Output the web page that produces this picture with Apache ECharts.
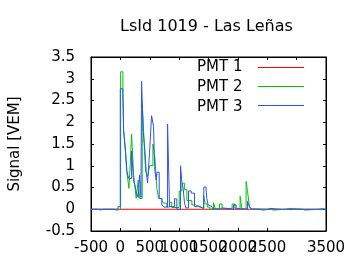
<!DOCTYPE html>
<html>
<head>
<meta charset="utf-8">
<script src="https://cdn.jsdelivr.net/npm/echarts@6/dist/echarts.min.js"></script>
<style>html,body{margin:0;padding:0;background:#fff;}#c{width:360px;height:270px;}</style>
</head>
<body>
<div id="c"></div>
<script>
var titleText = "LsId 1019 - Las Leñas";
var yAxisName = "Signal [VEM]";
var seriesNames = ["PMT 1", "PMT 2", "PMT 3"];

var pmt1Times = [-500, 3500];
var pmt1Values = [0, 0];

var pmt2Times = [-500,-381,-342,-286,-257,-116,-58,4,43,55,89,106,128,145,168,191,225,248,270,304,327,372,395,429,463,497,554,588,622,650,706,735,791,837,876,1001,1047,1090,1132,1217,1273,1358,1415,1445,1480,1520,1585,1619,1687,1732,1902,1948,2038,2067,2140,2163,2197,2230,2380,2420,2560,2600,2820,2860,3100,3140,3400,3440,3500];
var pmt2Values = [0,-0.02,0,0.03,0,-0.02,0,3.16,2.65,1.82,1.25,0.9,0.67,0.48,1.04,1.73,0.79,0.5,0.25,0.67,0.25,2.42,1.79,0.87,0.75,1.0,1.5,1.17,0.48,0.25,0.2,0.14,0.05,0.16,0.04,0.42,0.6,0.45,0.2,0.1,0.06,0.02,0.32,0.12,0.05,0,0.15,0,0.12,0.02,0.12,0.02,0.3,0.01,0.64,0.43,0.05,0,-0.02,0,-0.02,0,0.02,0,-0.02,0,0.02,0,0];

var pmt3Times = [-500,-40,-2,43,55,89,112,140,191,225,248,270,304,327,350,361,389,418,440,463,497,531,565,576,588,610,622,661,706,740,803,837,922,961,1024,1047,1069,1092,1115,1160,1205,1262,1330,1420,1460,1471,1494,1528,1562,1700,1735,1925,1970,2000,2163,2197,2230,2260,2500,2540,2740,2770,3000,3030,3300,3330,3500];
var pmt3Values = [0,0.06,2.77,2.66,1.82,1.33,0.87,0.71,1.34,0.64,0.56,0.4,0.27,0.79,0.27,2.94,1.79,1.33,0.87,0.6,1.31,2.15,1.9,1.31,0.87,0.67,0.85,0.25,0.1,0.05,1.96,0.06,0.24,0,1.0,0.62,0.48,0.14,0.03,0.42,0.37,0.06,0.02,0.51,0.44,0.25,0.1,0.06,0.01,0.03,0,0.1,0.02,0,0.18,0.06,0.01,0,0.02,0,0.02,0,0.02,0,0.02,0,0];

var colors = ["#ff0000", "#00c800", "#3050ff"];

function zip(t, v) { return t.map(function (x, i) { return [x, v[i]]; }); }

var FONT = "DejaVu Sans";
var chart = echarts.init(document.getElementById('c'), null, {renderer: 'canvas'});
var axLine = {show: true, onZero: false, lineStyle: {color: '#000', width: 1}};
var tick = {show: true, inside: true, length: 3, lineStyle: {color: '#000'}};
function plain(v) { return String(v); }
function mkSeries(name, t, v, c) {
  return {name: name, type: 'line', step: 'end', data: zip(t, v), showSymbol: false, symbol: 'none',
    lineStyle: {color: c, width: 1}, itemStyle: {color: c}, xAxisIndex: 0, yAxisIndex: 0, animation: false};
}
// legend key lines (decoration next to the legend texts)
var legendKeys = colors.map(function (c, i) {
  var y = 67.5 + i * 19;
  return {type: 'line', shape: {x1: 258, y1: y, x2: 304, y2: y}, style: {stroke: c, lineWidth: 1}, z: 100};
});
chart.setOption({
  animation: false,
  title: {text: titleText, left: 120, top: 19, padding: 0,
    textStyle: {fontFamily: FONT, fontSize: 16, fontWeight: 'normal', color: '#000'}},
  legend: {orient: 'vertical', left: 197, top: 60, align: 'right', itemWidth: 0, itemHeight: 14, itemGap: 5,
    padding: 0, icon: 'none', data: seriesNames, selectedMode: false,
    textStyle: {fontFamily: FONT, fontSize: 15, color: '#000', lineHeight: 14}},
  graphic: legendKeys,
  grid: {left: 91, right: 34, top: 57, bottom: 39, show: true, borderColor: '#000', borderWidth: 1, backgroundColor: 'transparent'},
  xAxis: [
    {type: 'value', position: 'bottom', min: -500, max: 3500, interval: 500, axisLine: axLine, axisTick: tick,
      splitLine: {show: false},
      axisLabel: {margin: 10, fontFamily: FONT, fontSize: 15, color: '#000', formatter: plain, showMinLabel: true, showMaxLabel: true, hideOverlap: false}},
    {type: 'value', position: 'top', min: -500, max: 3500, interval: 500, axisLine: axLine, axisTick: tick,
      splitLine: {show: false}, axisLabel: {show: false}}
  ],
  yAxis: [
    {type: 'value', position: 'left', min: -0.5, max: 3.5, interval: 0.5, axisLine: axLine, axisTick: tick,
      splitLine: {show: false},
      axisLabel: {margin: 16, fontFamily: FONT, fontSize: 15, color: '#000', formatter: plain, showMinLabel: true, showMaxLabel: true},
      name: yAxisName, nameLocation: 'middle', nameGap: 68, nameRotate: 90,
      nameTextStyle: {fontFamily: FONT, fontSize: 15, color: '#000'}},
    {type: 'value', position: 'right', min: -0.5, max: 3.5, interval: 0.5, axisLine: axLine, axisTick: tick,
      splitLine: {show: false}, axisLabel: {show: false}}
  ],
  series: [
    mkSeries(seriesNames[0], pmt1Times, pmt1Values, colors[0]),
    mkSeries(seriesNames[1], pmt2Times, pmt2Values, colors[1]),
    mkSeries(seriesNames[2], pmt3Times, pmt3Values, colors[2])
  ]
});
</script>
</body>
</html>
